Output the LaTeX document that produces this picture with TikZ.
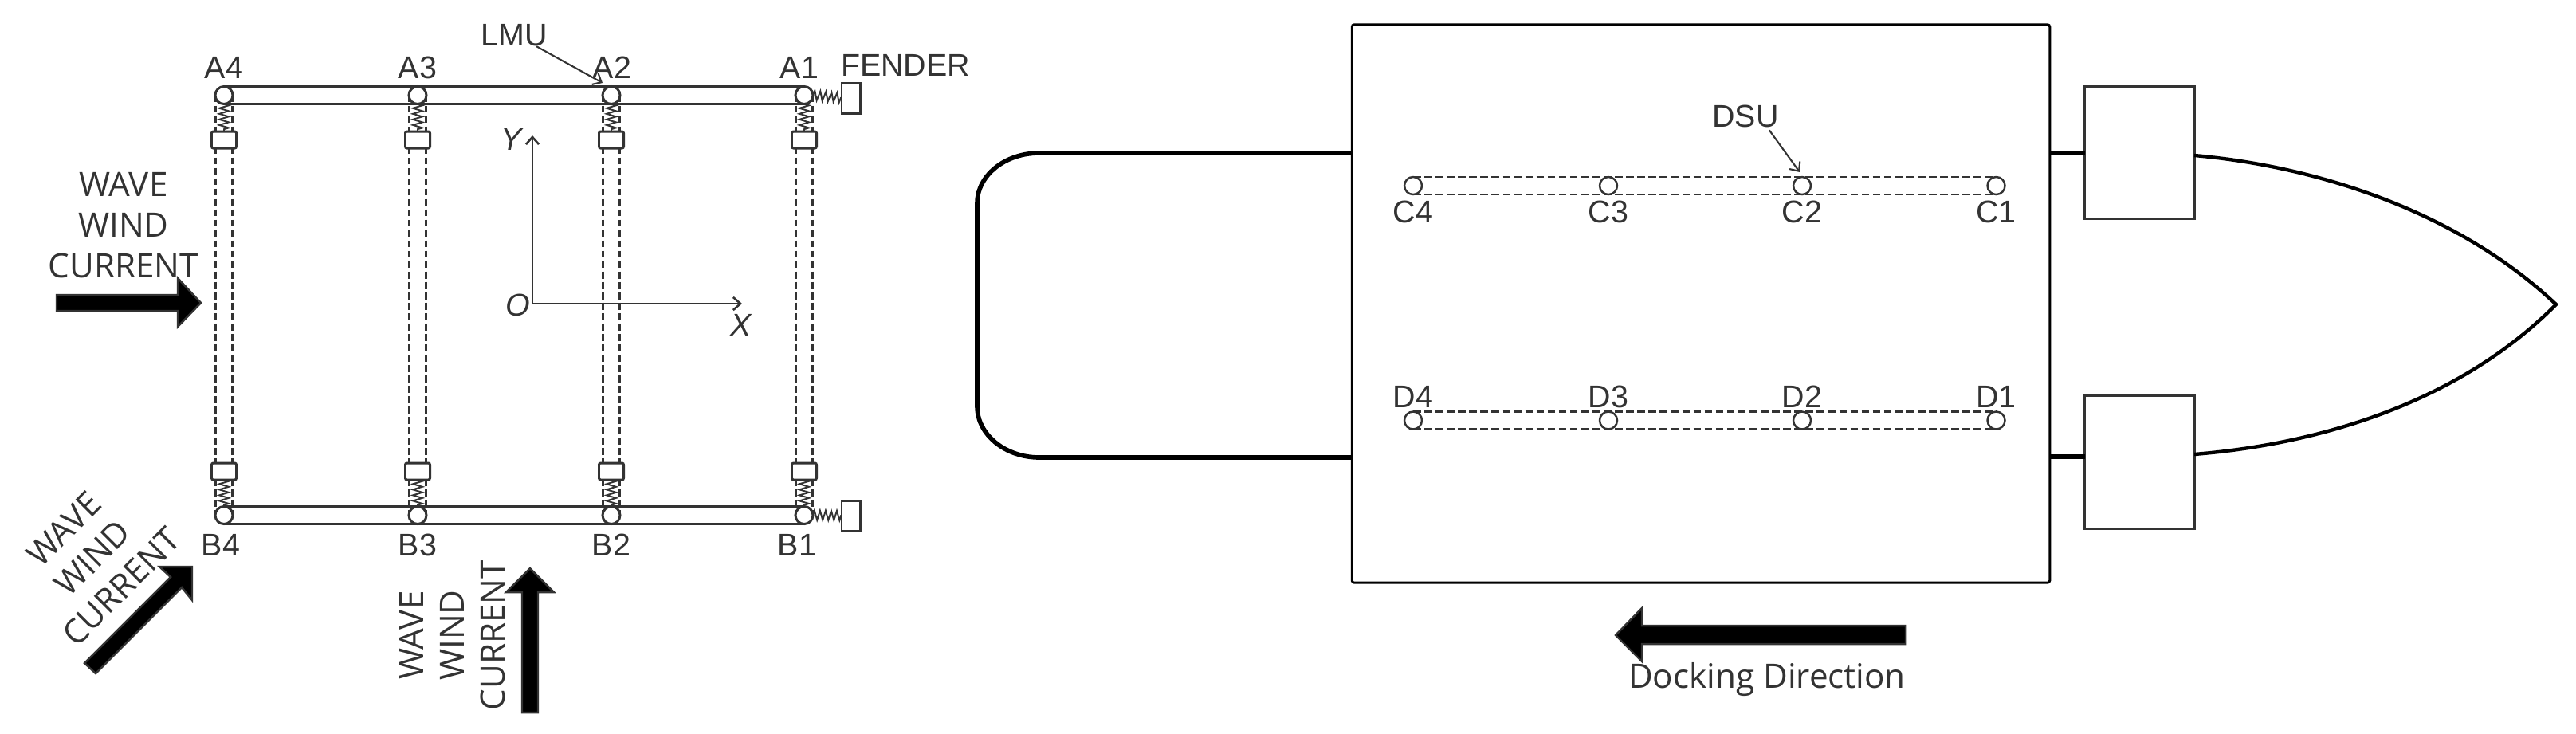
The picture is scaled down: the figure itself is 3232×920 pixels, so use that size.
\documentclass[tikz,border=0pt]{standalone}
\usepackage{fontspec}
\setmainfont{Liberation Sans}
\newfontfamily\notefont{Open Sans}
\usetikzlibrary{calc}
\usetikzlibrary{arrows.meta}
\usetikzlibrary{backgrounds}
\usetikzlibrary{decorations.pathmorphing}
\definecolor{inkgrey}{HTML}{333333}
\tikzset{>={Straight Barb[length=2.6pt,width=4.6pt]},
  lab/.style = {inner sep=0pt,outer sep=0pt,text=inkgrey,font=\fontsize{11.2}{13}\selectfont},
  note/.style = {inner sep=0pt,outer sep=0pt,text=inkgrey,align=center,font=\notefont\fontsize{12}{14.5}\selectfont},
  pin/.style = {circle,draw=inkgrey,fill=white,line width=0.85pt,minimum size=0.22cm,inner sep=0pt,outer sep=0pt},
  slider/.style = {rectangle,draw=inkgrey,fill=white,line width=0.85pt,rounded corners=0.6pt,minimum width=0.31cm,minimum height=0.21cm,inner sep=0pt,outer sep=0pt},
  fender/.style = {rectangle,draw=inkgrey,fill=white,line width=0.85pt,minimum width=0.23cm,minimum height=0.38cm,inner sep=0pt,outer sep=0pt},
  rail/.style = {draw=inkgrey,line width=0.85pt,dash pattern=on 2.5pt off 1.2pt},
  beam/.style = {draw=inkgrey,line width=0.85pt},
  spring/.style = {draw=inkgrey,line width=0.55pt,decorate,decoration={zigzag,segment length=2pt,amplitude=1.7pt}},
  lead/.style = {draw=inkgrey,line width=0.6pt,->},
  bigarrow/.style = {fill=black,draw=inkgrey,line width=0.7pt,miter limit=10},
  hull/.style = {draw=black,line width=1.6pt}
}
\begin{document}
\begin{tikzpicture}[x=0.01cm,y=-0.01cm]
  \useasboundingbox (0,0) rectangle (3232,920);

  % mooring frame
  \foreach \i/\x/\la/\lb in {1/1009/1003/1000,2/767/768/767,3/524/524/524,4/281/281/277} {
    \node[pin] (A\i) at (\x,119.5) {};
    \node[pin] (B\i) at (\x,646.5) {};
    \node[slider] (SA\i) at (\x,175.5) {};
    \node[slider] (SB\i) at (\x,591.5) {};
    \begin{scope}[on background layer]
      \draw[rail] ($(A\i)+(-10.5,0)$) -- ($(B\i)+(-10.5,0)$);
      \draw[rail] ($(A\i)+(10.5,0)$) -- ($(B\i)+(10.5,0)$);
    \end{scope}
    \draw[spring] (A\i.south) -- (SA\i.north);
    \draw[spring] (SB\i.south) -- (B\i.north);
    \node[lab] (LA\i) at (\la,85) {A\i};
    \node[lab] (LB\i) at (\lb,684) {B\i};
  }
  \draw[beam] (A4.north) -- (A1.north);
  \draw[beam] (A4.south) -- (A1.south);
  \draw[beam] (B4.north) -- (B1.north);
  \draw[beam] (B4.south) -- (B1.south);

  \node[fender] (FA) at (1067.5,123) {};
  \node[fender] (FB) at (1067.5,647) {};
  \draw[spring] (A1.east) -- (FA.west);
  \draw[spring] (B1.east) -- (FB.west);
  \node[lab] (fendertext) at (1136,82) {FENDER};

  \node[lab] (LMU) at (645,44.5) {LMU};
  \coordinate (lmutip) at (756,104);
  \draw[lead] (LMU.-26) -- (lmutip);

  % axes
  \coordinate (O) at (668,381);
  \node[lab,font=\fontsize{11.2}{13}\selectfont\itshape] (Ox) at (930,408) {X};
  \node[lab,font=\fontsize{11.2}{13}\selectfont\itshape] (Oy) at (642,175) {Y};
  \node[lab,font=\fontsize{11.2}{13}\selectfont\itshape] (Oo) at (650,383) {O};
  \draw[lead,line width=0.75pt] (O) -- (931,381);
  \draw[lead,line width=0.75pt] (O) -- (668,170);

  % loads
  \node[note] (loadA) at (155,283) {WAVE\\WIND\\CURRENT};
  \draw[bigarrow] (71,370) -- (223,370) -- (223,349) -- (252,380) -- (223,410) -- (223,390) -- (71,390) -- cycle;
  \node[note,rotate=45] (loadB) at (116,700) {WAVE\\WIND\\CURRENT};
  \draw[bigarrow] (106,832) -- (214,724) -- (200,711) -- (241,711) -- (241,753) -- (228,737) -- (120,845) -- cycle;
  \node[note,rotate=90] (loadC) at (568,797) {WAVE\\WIND\\CURRENT};
  \draw[bigarrow] (655,894) -- (655,743) -- (635,743) -- (665,713) -- (695,743) -- (675,743) -- (675,894) -- cycle;

  % ship
  \node[draw=black,line width=0.85pt,rounded corners=0.8pt,minimum width=8.75cm,minimum height=7cm,inner sep=0pt,outer sep=0pt] (deck) at (2134,381) {};
  \node[draw=inkgrey,line width=0.85pt,minimum width=1.37cm,minimum height=1.65cm,inner sep=0pt,outer sep=0pt] (TA) at (2684.5,191.5) {};
  \node[draw=inkgrey,line width=0.85pt,minimum width=1.37cm,minimum height=1.66cm,inner sep=0pt,outer sep=0pt] (TB) at (2684.5,580) {};
  \coordinate (sternA) at (deck.west |- 0,192);
  \coordinate (sternB) at (deck.west |- 0,574);
  \coordinate (bowA) at (TA.east |- 0,195);
  \coordinate (bowB) at (TB.east |- 0,570);
  \coordinate (bow) at (3207,382);
  \draw[hull] (sternA) -- (1304,192) .. controls (1261,192) and (1226,220) .. (1226,255) -- (1226,510) .. controls (1226,545) and (1261,574) .. (1304,574) -- (sternB);
  \draw[hull] (deck.east |- TA.west) -- (TA.west);
  \draw[hull] (deck.east |- 0,573) -- (TB.west |- 0,573);
  \draw[hull,line width=1.25pt] (bowA) .. controls (2900,208) and (3080,262) .. (bow) .. controls (3080,510) and (2900,558) .. (bowB);

  % dsu rows
  \foreach \i/\x in {1/2504.5,2/2261,3/2018,4/1773} {
    \node[pin,line width=0.7pt] (C\i) at (\x,233) {};
    \node[pin,line width=0.7pt] (D\i) at (\x,527.5) {};
    \node[lab] (LC\i) at (\x,265.5) {C\i};
    \node[lab] (LD\i) at (\x,497.5) {D\i};
  }
  \foreach \r in {C,D} {
    \draw[rail,line width=0.7pt,dash pattern=on 2.7pt off 1.3pt] (\r4.north) -- (\r1.north);
    \draw[rail,line width=0.7pt,dash pattern=on 2.7pt off 1.3pt] (\r4.south) -- (\r1.south);
  }
  \node[lab] (DSU) at (2190,146) {DSU};
  \coordinate (dsutip) at (2258,216);
  \draw[lead,shorten <=1.2pt] (DSU.-27) -- (dsutip);

  \draw[bigarrow] (2391,785) -- (2060,785) -- (2060,763) -- (2027,797) -- (2060,830) -- (2060,808) -- (2391,808) -- cycle;
  \node[note] (docktext) at (2217,853) {Docking Direction};
\end{tikzpicture}
\end{document}
